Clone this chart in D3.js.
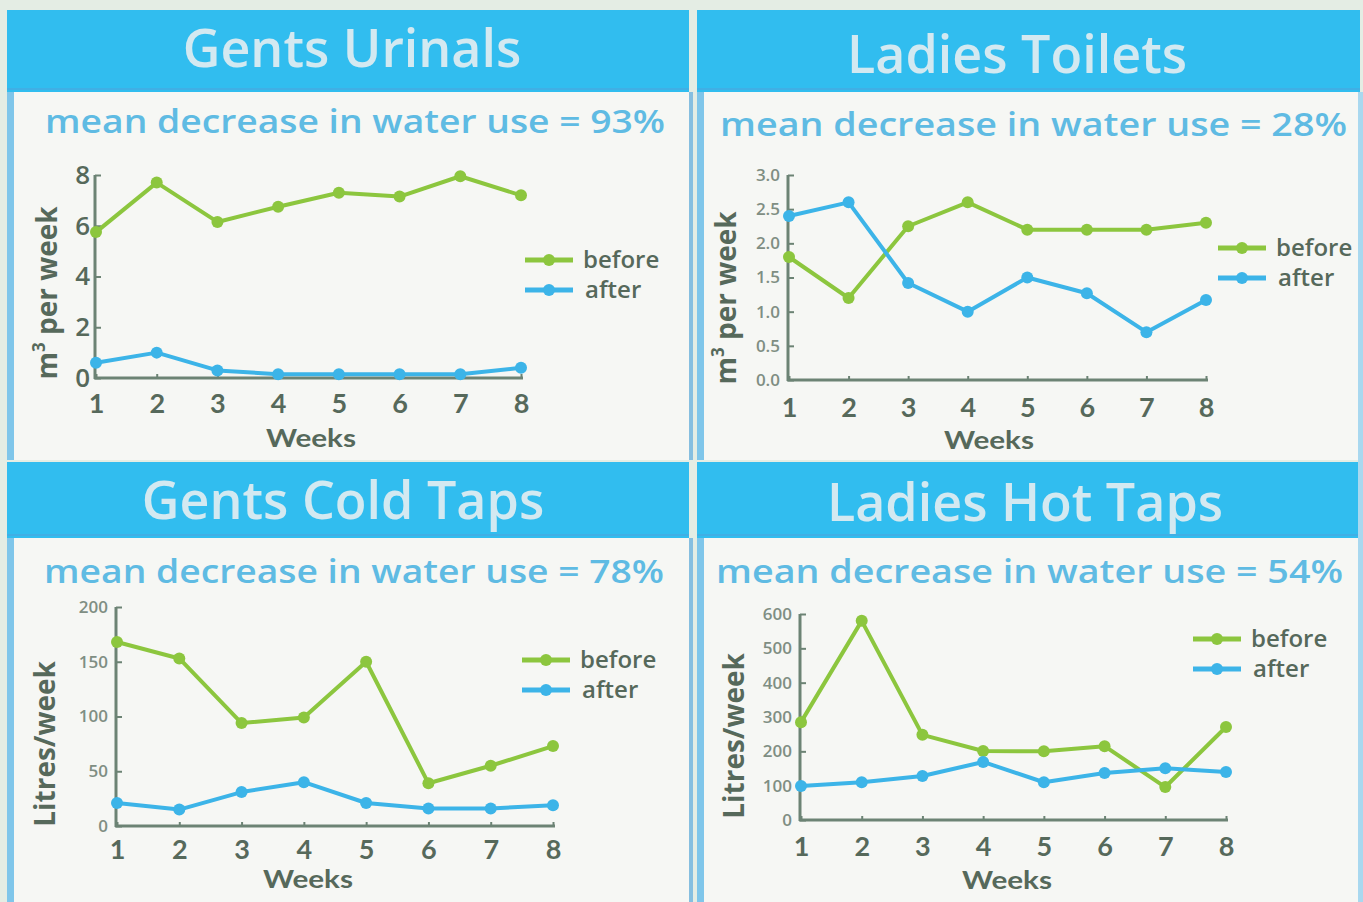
<!DOCTYPE html>
<html><head><meta charset="utf-8">
<script src="https://cdn.jsdelivr.net/npm/d3@7"></script>
<style>
html,body{margin:0;padding:0;background:#e4ede4;}
svg{display:block;}
</style></head>
<body>
<svg id="chart" width="1363" height="902"></svg>
<script>
// ---- data ----
const weeks = [1,2,3,4,5,6,7,8];
const panelTitles = ["Gents Urinals","Ladies Toilets","Gents Cold Taps","Ladies Hot Taps"];
const meanDecrease = ["93%","28%","78%","54%"];
const yLabels = ["m³ per week","m³ per week","Litres/week","Litres/week"];
const seriesNames = ["before","after"];
const urinalsBefore = [5.75,7.7,6.15,6.75,7.3,7.15,7.95,7.2];
const urinalsAfter  = [0.6,1.0,0.3,0.15,0.15,0.15,0.15,0.4];
const toiletsBefore = [1.8,1.2,2.25,2.6,2.2,2.2,2.2,2.3];
const toiletsAfter  = [2.4,2.6,1.42,1.0,1.5,1.27,0.7,1.17];
const coldBefore = [168,153,94,99,150,39,55,73];
const coldAfter  = [21,15,31,40,21,16,16,19];
const hotBefore = [285,580,248,201,200,215,96,271];
const hotAfter  = [99,110,128,169,110,137,151,140];
const ticksUrinals = [0,2,4,6,8];
const ticksToilets = [0,0.5,1,1.5,2,2.5,3];
const ticksCold = [0,50,100,150,200];
const ticksHot = [0,100,200,300,400,500,600];

const GREEN = "#8cc63e", BLUE = "#3cb4e8";
const AXIS = "#6c8374", TXT = "#56695b";
const FONT = "'Open Sans', 'Noto Sans', sans-serif";
const FONT2 = "Lato, 'Open Sans', sans-serif";

const svg = d3.select("#chart");

svg.append("rect").attr("x",0).attr("y",0).attr("width",1363).attr("height",902).attr("fill","#e4ede4");

const panels = [
  {title:0, before:urinalsBefore, after:urinalsAfter, ticks:ticksUrinals, fmt:d3.format("d"), bigTicks:true,
   box:{x:7,y:10,w:682,h:450,hh:82},
   plot:{x0:96,x1:521,y0:378,y1:175}, sub:{x1:45,x2:665,y:133}, titleY:67, titleX:352,
   xlabY:413, weeksY:447, weeksX:311, ylab:{x:57,y:293}, leg:{x:525,y:260}},
  {title:1, before:toiletsBefore, after:toiletsAfter, ticks:ticksToilets, fmt:d3.format(".1f"), bigTicks:false,
   box:{x:697,y:10,w:663,h:450,hh:82},
   plot:{x0:789,x1:1206,y0:380,y1:175}, sub:{x1:720,x2:1347,y:136}, titleY:73, titleX:1017,
   xlabY:417, weeksY:449, weeksX:989, ylab:{x:736,y:298}, leg:{x:1218,y:248}},
  {title:2, before:coldBefore, after:coldAfter, ticks:ticksCold, fmt:d3.format("d"), bigTicks:false,
   box:{x:7,y:462,w:682,h:440,hh:76},
   plot:{x0:117,x1:553,y0:826,y1:607}, sub:{x1:44,x2:664,y:583}, titleY:519, titleX:343,
   xlabY:859, weeksY:888, weeksX:308, ylab:{x:55,y:744}, leg:{x:522,y:660}},
  {title:3, before:hotBefore, after:hotAfter, ticks:ticksHot, fmt:d3.format("d"), bigTicks:false,
   box:{x:697,y:462,w:663,h:440,hh:76},
   plot:{x0:801,x1:1226,y0:820,y1:614}, sub:{x1:716,x2:1343,y:583}, titleY:521, titleX:1025,
   xlabY:856, weeksY:889, weeksX:1007, ylab:{x:744,y:736}, leg:{x:1193,y:639}}
];

panels.forEach(p => {
  const g = svg.append("g");
  const b = p.box;
  g.append("rect").attr("x",b.x).attr("y",b.y+b.hh).attr("width",b.w).attr("height",b.h-b.hh).attr("fill","#f6f7f4");
  g.append("rect").attr("x",b.x).attr("y",b.y+b.hh).attr("width",7).attr("height",b.h-b.hh).attr("fill","#7fc6ea");
  g.append("rect").attr("x",b.x).attr("y",b.y).attr("width",b.w).attr("height",b.hh).attr("fill","#31bdef");
  g.append("line").attr("x1",b.x).attr("x2",b.x+b.w).attr("y1",b.y+b.hh-3).attr("y2",b.y+b.hh-3)
    .attr("stroke","#4aa6e0").attr("stroke-width",2).attr("opacity",0.6);
  g.append("text").attr("x",p.titleX).attr("y",p.titleY).attr("text-anchor","middle")
    .attr("font-family",FONT).attr("font-weight",600).attr("font-size",52).attr("fill","#d3e9f1")
    .text(panelTitles[p.title]);
  g.append("text").attr("x",p.sub.x1).attr("y",p.sub.y).attr("font-family",FONT).attr("font-weight",600)
    .attr("font-size",33).attr("fill","#5fbbe3").attr("textLength",p.sub.x2-p.sub.x1).attr("lengthAdjust","spacingAndGlyphs")
    .text("mean decrease in water use = " + meanDecrease[p.title]);

  const pl = p.plot;
  const x = d3.scaleLinear().domain([1,8]).range([pl.x0,pl.x1]);
  const y = d3.scaleLinear().domain([p.ticks[0],p.ticks[p.ticks.length-1]]).range([pl.y0,pl.y1]);

  // y axis
  const ya = g.append("g").attr("transform",`translate(${pl.x0-1},0)`)
    .call(d3.axisLeft(y).tickValues(p.ticks).tickFormat(p.fmt).tickSizeInner(-6).tickSizeOuter(0).tickPadding(p.bigTicks?5:8));
  ya.select(".domain").attr("stroke",AXIS).attr("stroke-width",3).attr("d",`M0,${pl.y1}V${pl.y0+1}`);
  ya.selectAll(".tick line").attr("stroke",AXIS).attr("stroke-width",2);
  ya.selectAll(".tick text").attr("fill",p.bigTicks?TXT:"#7f8e83").attr("font-family",FONT)
    .attr("font-size",p.bigTicks?26:17).attr("font-weight",600);

  // x axis
  const xa = g.append("g").attr("transform",`translate(0,${pl.y0})`)
    .call(d3.axisBottom(x).tickValues(weeks).tickFormat(d3.format("d")).tickSizeInner(-4).tickSizeOuter(0).tickPadding(0));
  xa.select(".domain").attr("stroke",AXIS).attr("stroke-width",3).attr("d",`M${pl.x0-2},0H${pl.x1+2}`);
  xa.selectAll(".tick line").attr("stroke",AXIS).attr("stroke-width",2);
  xa.selectAll(".tick text").attr("fill",TXT).attr("font-family",FONT2).attr("font-size",27).attr("font-weight",700)
    .attr("dy",null).attr("y",p.xlabY-pl.y0);

  g.append("text").attr("x",p.weeksX).attr("y",p.weeksY).attr("text-anchor","middle")
    .attr("font-family",FONT2).attr("font-weight",700).attr("font-size",25).attr("fill",TXT)
    .attr("textLength",90).attr("lengthAdjust","spacingAndGlyphs").text("Weeks");

  // y label
  const yl = g.append("text").attr("transform",`translate(${p.ylab.x},${p.ylab.y}) rotate(-90)`).attr("text-anchor","middle")
    .attr("font-family",FONT).attr("font-weight",700).attr("font-size",28).attr("fill",TXT);
  const lab = yLabels[p.title];
  if (lab.indexOf("³")>=0) {
    yl.append("tspan").text("m");
    yl.append("tspan").attr("font-size",17).attr("dy",-12).text("3");
    yl.append("tspan").attr("dy",12).text(" per week");
  } else yl.text(lab);

  // series
  const line = d3.line().x((d,i)=>x(weeks[i])).y(d=>y(d));
  [[p.before,GREEN],[p.after,BLUE]].forEach(([vals,col]) => {
    g.append("path").datum(vals).attr("d",line).attr("fill","none").attr("stroke",col).attr("stroke-width",4)
      .attr("stroke-linejoin","round");
    g.selectAll(null).data(vals).enter().append("circle")
      .attr("cx",(d,i)=>x(weeks[i])).attr("cy",d=>y(d)).attr("r",6).attr("fill",col);
  });

  // legend
  seriesNames.forEach((nm,i) => {
    const ly = p.leg.y + i*30;
    const col = i===0?GREEN:BLUE;
    g.append("line").attr("x1",p.leg.x).attr("x2",p.leg.x+48).attr("y1",ly).attr("y2",ly).attr("stroke",col).attr("stroke-width",5);
    g.append("circle").attr("cx",p.leg.x+24).attr("cy",ly).attr("r",6).attr("fill",col);
    g.append("text").attr("x",p.leg.x+58 + (i===1?2:0)).attr("y",ly+8).attr("font-family",FONT).attr("font-weight",600)
      .attr("font-size",24).attr("fill",TXT).text(nm);
  });
});

svg.append("rect").attr("x",689).attr("y",92).attr("width",4).attr("height",368).attr("fill","#86bfe0");
svg.append("rect").attr("x",689).attr("y",538).attr("width",4).attr("height",364).attr("fill","#86bfe0");
svg.append("rect").attr("x",1358).attr("y",92).attr("width",5).attr("height",810).attr("fill","#a9d8ef");
</script>
</body></html>
